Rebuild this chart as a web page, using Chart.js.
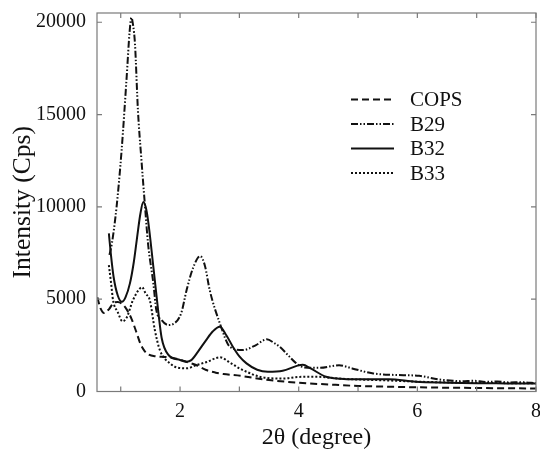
<!DOCTYPE html>
<html><head><meta charset="utf-8">
<script src="https://cdn.jsdelivr.net/npm/chart.js@4"></script>
<style>html,body{margin:0;padding:0;background:#fff}canvas{display:block}</style>
</head><body>
<canvas id="c" width="540" height="450"></canvas>
<script>
const seriesLabels = ['COPS', 'B29', 'B32', 'B33'];

const copsX = [0.605,0.66,0.72,0.80,0.88,0.95,1.02,1.10,1.18,1.26,1.33,1.40,1.47,1.60,1.75,1.92,2.10,2.27,2.44,2.60,2.73,3.02,3.25,3.50,4.00,4.50,5.00,5.50,6.00,7.00,8.00];
const copsY = [5100,4500,4250,4450,4800,4850,4750,4450,3950,3250,2600,2200,2000,1900,1870,1795,1615,1434,1163,1020,947,850,730,622,470,380,300,260,227,190,165];

const b29X = [0.81,0.85,0.93,1.015,1.10,1.15,1.18,1.21,1.24,1.29,1.35,1.41,1.46,1.55,1.60,1.69,1.80,1.88,2.02,2.11,2.22,2.34,2.42,2.50,2.67,2.84,3.06,3.28,3.46,3.60,3.68,3.84,3.95,4.10,4.35,4.68,4.90,5.24,5.60,6.03,6.36,6.55,6.75,6.95,7.15,7.35,7.55,7.75,8.00];
const b29Y = [7400,8000,10000,13070,17030,19500,20250,19800,18840,15230,12500,10000,8020,5855,4410,3870,3600,3650,4250,5490,6700,7330,6800,5490,3700,2425,2245,2515,2825,2600,2425,1900,1550,1300,1280,1420,1250,985,900,850,650,600,560,580,520,540,490,500,450];

const b32X = [0.80,0.83,0.88,0.95,1.02,1.08,1.155,1.22,1.27,1.33,1.38,1.42,1.46,1.55,1.63,1.69,1.80,2.00,2.11,2.19,2.30,2.44,2.55,2.67,2.78,2.89,3.00,3.12,3.30,3.48,3.73,3.98,4.07,4.20,4.46,4.70,4.96,5.52,5.97,6.50,7.00,7.50,8.00];
const b32Y = [8560,7560,6200,5200,4860,5100,5855,7000,8200,9600,10270,10000,9280,6750,4410,2900,2000,1705,1615,1700,2150,2787,3250,3506,3050,2425,1900,1525,1180,1070,1125,1400,1450,1250,800,690,660,660,530,480,450,440,430];

const b33X = [0.80,0.84,0.87,0.95,1.03,1.10,1.20,1.28,1.36,1.42,1.49,1.575,1.66,1.83,1.95,2.11,2.28,2.45,2.67,2.85,3.00,3.17,3.34,3.51,3.75,4.00,4.30,4.68,5.00,5.50,6.03,7.00,8.00];
const b33Y = [6845,5800,4950,4300,3800,4000,4900,5400,5650,5300,4950,3330,2240,1525,1300,1255,1434,1600,1850,1550,1255,1000,800,720,700,790,800,700,650,600,530,470,440];

const xTickLabels = [2, 4, 6, 8];
const xTickMarks = [1, 2, 3, 4, 5, 6, 7, 8];
const yTickLabels = [0, 5000, 10000, 15000, 20000];

function pts(xs, ys) { return xs.map((x, i) => ({x: x, y: ys[i]})); }

const FONT = 'Liberation Serif';
const AXIS_COLOR = '#7a7a7a';

const framePlugin = {
  id: 'frame',
  afterDatasetsDraw(chart) {
    const ctx = chart.ctx, a = chart.chartArea;
    const sx = chart.scales.x, sy = chart.scales.y;
    ctx.save();
    ctx.setLineDash([]);
    ctx.strokeStyle = AXIS_COLOR;
    ctx.lineWidth = 1.2;
    ctx.strokeRect(a.left, a.top, a.right - a.left, a.bottom - a.top);
    ctx.beginPath();
    const L = 5;
    xTickMarks.forEach(v => {
      const px = sx.getPixelForValue(v);
      ctx.moveTo(px, a.bottom); ctx.lineTo(px, a.bottom - L);
      ctx.moveTo(px, a.top); ctx.lineTo(px, a.top + L);
    });
    yTickLabels.forEach(v => {
      const py = sy.getPixelForValue(v);
      ctx.moveTo(a.left, py); ctx.lineTo(a.left + L, py);
      ctx.moveTo(a.right, py); ctx.lineTo(a.right - L, py);
    });
    ctx.stroke();
    ctx.restore();
  },
  afterDraw(chart) {
    const ctx = chart.ctx;
    ctx.save();
    ctx.font = '21px "' + FONT + '"';
    ctx.textBaseline = 'middle';
    ctx.textAlign = 'left';
    chart.data.datasets.forEach((ds, i) => {
      const y = 99.5 + i * 24.5;
      ctx.strokeStyle = ds.borderColor;
      ctx.lineWidth = ds.borderWidth;
      ctx.setLineDash(ds.borderDash || []);
      ctx.beginPath();
      ctx.moveTo(351, y); ctx.lineTo(394, y);
      ctx.stroke();
      ctx.setLineDash([]);
      ctx.fillStyle = '#111';
      ctx.fillText(ds.label, 410, y + 1);
    });
    ctx.restore();
  }
};

const styles = [
  {borderDash: [7, 4]},
  {borderDash: [7, 2, 1.5, 2, 1.5, 2]},
  {borderDash: []},
  {borderDash: [2, 2]}
];
const dataSets = [pts(copsX, copsY), pts(b29X, b29Y), pts(b32X, b32Y), pts(b33X, b33Y)];

new Chart(document.getElementById('c'), {
  type: 'line',
  data: {
    datasets: seriesLabels.map((lab, i) => ({
      label: lab,
      data: dataSets[i],
      borderColor: '#111',
      backgroundColor: '#111',
      borderWidth: 2,
      borderDash: styles[i].borderDash,
      pointRadius: 0,
      fill: false,
      cubicInterpolationMode: 'monotone'
    }))
  },
  options: {
    responsive: false,
    animation: false,
    devicePixelRatio: 1,
    layout: {padding: {top: 13, right: 4, left: 0, bottom: 0}},
    plugins: {legend: {display: false}, tooltip: {enabled: false}},
    scales: {
      x: {
        type: 'linear', min: 0.6, max: 8,
        afterBuildTicks: s => { s.ticks = xTickLabels.map(v => ({value: v})); },
        afterFit: s => { s.height = 58.5; s.paddingLeft = 0; s.paddingRight = 0; },
        grid: {display: false, drawTicks: false},
        border: {display: false},
        ticks: {font: {family: FONT, size: 20}, color: '#111', padding: 8, maxRotation: 0, autoSkip: false},
        title: {display: true, text: '2θ (degree)', color: '#111', font: {family: FONT, size: 24, lineHeight: 1}, padding: {top: 0, bottom: 0}}
      },
      y: {
        min: 0, max: 20500,
        afterBuildTicks: s => { s.ticks = yTickLabels.map(v => ({value: v})); },
        afterFit: s => { s.width = 97; s.paddingTop = 0; s.paddingBottom = 0; },
        grid: {display: false, drawTicks: false},
        border: {display: false},
        ticks: {font: {family: FONT, size: 20}, color: '#111', padding: 11, callback: v => String(v)},
        title: {display: true, text: 'Intensity (Cps)', color: '#111', font: {family: FONT, size: 25.5, lineHeight: 1.2}, padding: {top: 8, bottom: 0}}
      }
    }
  },
  plugins: [framePlugin]
});
</script>
</body></html>
